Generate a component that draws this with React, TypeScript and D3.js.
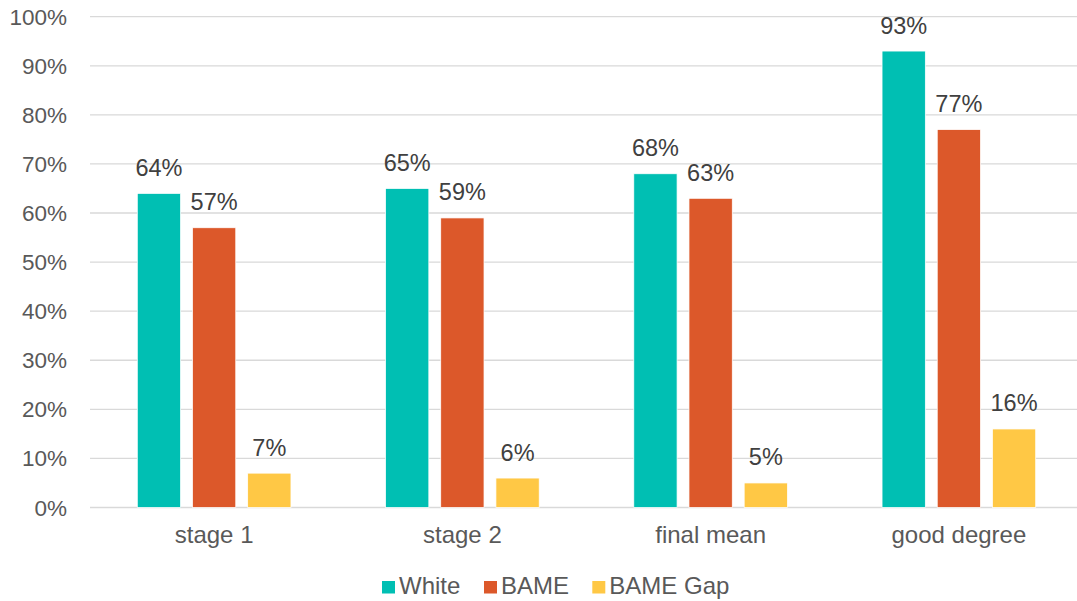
import React from "react";
import * as d3 from "d3";

const categories = ["stage 1", "stage 2", "final mean", "good degree"];
const seriesNames = ["White", "BAME", "BAME Gap"];
const white = [0.64, 0.65, 0.68, 0.93];
const bame = [0.57, 0.59, 0.63, 0.77];
const bameGap = [0.07, 0.06, 0.05, 0.16];
const yTicks = [0, 0.1, 0.2, 0.3, 0.4, 0.5, 0.6, 0.7, 0.8, 0.9, 1.0];
const colors = ["#00BFB3", "#DC582A", "#FFC845"];

const W = 1077;
const H = 601;
const FONT = "'Liberation Sans', Arial, sans-serif";

export default function App() {
  const seriesValues = [white, bame, bameGap];

  const x0 = d3
    .scaleBand<string>()
    .domain(categories)
    .range([90, 1083])
    .paddingInner(0.381)
    .paddingOuter(0.1905);
  const x1 = d3
    .scaleBand<string>()
    .domain(seriesNames)
    .range([0, x0.bandwidth()])
    .paddingInner(0.2156);
  const y = d3.scaleLinear().domain([0, 1]).range([507.5, 16.7]);
  const pct = d3.format(".0%");

  return (
    <svg
      width={W}
      height={H}
      style={{ position: "absolute", left: 0, top: 0, background: "#fff" }}
      fontFamily={FONT}
    >
      {/* gridlines */}
      {yTicks.map((t) => (
        <line
          key={"g" + t}
          x1={90}
          x2={W}
          y1={y(t)}
          y2={y(t)}
          stroke="#D9D9D9"
          strokeWidth={1.3}
        />
      ))}
      {/* y tick labels */}
      {yTicks.map((t) => (
        <text
          key={"t" + t}
          x={67}
          y={y(t) + 8}
          textAnchor="end"
          fontSize={22.5}
          fill="#595959"
        >
          {pct(t)}
        </text>
      ))}
      {/* bars and value labels */}
      {categories.map((c, ci) => (
        <g key={c} transform={`translate(${x0(c)},0)`}>
          {seriesNames.map((s, si) => {
            const v = seriesValues[si][ci];
            const bx = x1(s)!;
            return (
              <g key={s}>
                <rect
                  x={bx}
                  y={y(v)}
                  width={x1.bandwidth()}
                  height={y(0) - y(v)}
                  fill={colors[si]}
                  stroke="#fff"
                  strokeWidth={0.75}
                />
                <text
                  x={bx + x1.bandwidth() / 2}
                  y={y(v) - 17.5}
                  textAnchor="middle"
                  fontSize={23.5}
                  fill="#404040"
                >
                  {pct(v)}
                </text>
              </g>
            );
          })}
        </g>
      ))}
      {/* category labels */}
      {categories.map((c) => (
        <text
          key={"c" + c}
          x={x0(c)! + x0.bandwidth() / 2}
          y={543}
          textAnchor="middle"
          fontSize={24}
          fill="#595959"
        >
          {c}
        </text>
      ))}
      {/* legend */}
      {seriesNames.map((s, i) => {
        const lx = [382, 484, 592.3][i];
        return (
          <g key={"l" + s}>
            <rect x={lx} y={581} width={13} height={12.5} fill={colors[i]} />
            <text x={lx + 17} y={594} fontSize={24} fill="#595959">
              {s}
            </text>
          </g>
        );
      })}
    </svg>
  );
}
